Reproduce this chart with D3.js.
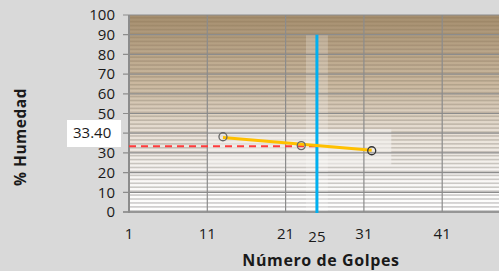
<!DOCTYPE html>
<html><head><meta charset="utf-8">
<script src="https://cdn.jsdelivr.net/npm/d3@7"></script>
<style>html,body{margin:0;padding:0;background:#d9d9d9;overflow:hidden}</style>
</head><body>
<svg id="c" width="499" height="271"></svg>
<script>
// data
const golpes = [13, 23, 32];
const humedad = [38.2, 33.7, 31.1];
const trendX = [13, 32];
const trendY = [37.8, 31.3];
const targetGolpes = 25;
const resultHumedad = 33.40;
const resultLabel = "33.40";
const xTicks = [1, 11, 21, 31, 41];
const yTicks = [0, 10, 20, 30, 40, 50, 60, 70, 80, 90, 100];

const svg = d3.select("#c");
const W = 499, H = 271;
const x = d3.scaleLinear().domain([1, 51]).range([129, 520.5]);
const y = d3.scaleLinear().domain([0, 100]).range([212, 15]);
const font = "'Open Sans', 'DejaVu Sans', sans-serif";

svg.append("rect").attr("width", W).attr("height", H).attr("fill", "#d9d9d9");

const defs = svg.append("defs");
const g = defs.append("linearGradient").attr("id", "bg").attr("x1", 0).attr("x2", 0).attr("y1", 0).attr("y2", 1);
g.append("stop").attr("offset", "0%").attr("stop-color", "#a68f6f");
g.append("stop").attr("offset", "35%").attr("stop-color", "#cbb9a0");
g.append("stop").attr("offset", "60%").attr("stop-color", "#e8e0d6");
g.append("stop").attr("offset", "80%").attr("stop-color", "#f8f6f4");
g.append("stop").attr("offset", "100%").attr("stop-color", "#ffffff");

const plot = svg.append("g");
plot.append("rect").attr("x", x(1)).attr("y", y(100)).attr("width", x(51) - x(1)).attr("height", y(0) - y(100)).attr("fill", "url(#bg)");

// stripes (minor bands)
const bands = d3.range(0, 100, 2);
plot.selectAll(".band").data(bands).join("rect")
  .attr("x", x(1)).attr("width", x(51) - x(1))
  .attr("y", d => y(d + 1)).attr("height", 1.6)
  .attr("fill", d => d3.interpolateRgb("#9a9a9a", "#8a7455")(d / 100))
  .attr("opacity", d => 0.5 - 0.15 * d / 100);

// highlight overlays
plot.append("rect").attr("x", x(11)).attr("y", y(42)).attr("width", x(34.5) - x(11)).attr("height", y(24) - y(42))
  .attr("fill", "#f4f2f0").attr("opacity", 0.6);
plot.append("rect").attr("x", x(23.6)).attr("y", y(90)).attr("width", x(26.4) - x(23.6)).attr("height", y(0) - y(90))
  .attr("fill", "#ffffff").attr("opacity", 0.22);

// gridlines
plot.selectAll(".hg").data(yTicks).join("line")
  .attr("x1", x(1) - 6).attr("x2", x(51)).attr("y1", d => y(d)).attr("y2", d => y(d))
  .attr("stroke", "#8c8c8c").attr("stroke-width", 1.2);
plot.selectAll(".vg").data(xTicks.slice(1)).join("line")
  .attr("x1", d => x(d)).attr("x2", d => x(d)).attr("y1", y(100)).attr("y2", y(0))
  .attr("stroke", "#8c8c8c").attr("stroke-width", 1.2);
plot.append("line").attr("x1", x(1)).attr("x2", x(1)).attr("y1", y(100)).attr("y2", y(0) + 1)
  .attr("stroke", "#8c8c8c").attr("stroke-width", 2);
plot.append("line").attr("x1", x(1) - 6).attr("x2", x(51)).attr("y1", y(0)).attr("y2", y(0))
  .attr("stroke", "#8c8c8c").attr("stroke-width", 1.5);

// red dashed result line
plot.append("line").attr("x1", x(1)).attr("x2", x(targetGolpes)).attr("y1", y(resultHumedad)).attr("y2", y(resultHumedad))
  .attr("stroke", "#ff3b3b").attr("stroke-width", 2).attr("stroke-dasharray", "7,5");

// blue vertical line
plot.append("line").attr("x1", x(targetGolpes)).attr("x2", x(targetGolpes)).attr("y1", y(90)).attr("y2", y(0) + 1)
  .attr("stroke", "#00b0f0").attr("stroke-width", 3);

// trend line
const trend = trendX.map((d, i) => [d, trendY[i]]);
plot.append("path").datum(trend)
  .attr("d", d3.line().x(d => x(d[0])).y(d => y(d[1])))
  .attr("stroke", "#ffc000").attr("stroke-width", 3).attr("fill", "none");

// points
plot.selectAll(".pt").data(golpes).join("circle")
  .attr("cx", d => x(d)).attr("cy", (d, i) => y(humedad[i])).attr("r", 4)
  .attr("fill", "none").attr("stroke", (d, i) => i < 2 ? "#666" : "#333").attr("stroke-width", 1.3);

// tick labels
svg.selectAll(".yl").data(yTicks.filter(d => d !== 40)).join("text")
  .attr("x", 115).attr("y", d => y(d)).attr("dy", "0.35em")
  .attr("text-anchor", "end").attr("font-family", font).attr("font-size", 15).attr("fill", "#1a1a1a")
  .text(d => d);
svg.selectAll(".xl").data(xTicks).join("text")
  .attr("x", d => x(d)).attr("y", 239)
  .attr("text-anchor", "middle").attr("font-family", font).attr("font-size", 15).attr("fill", "#1a1a1a")
  .text(d => d);
svg.append("text").attr("x", x(targetGolpes)).attr("y", 242)
  .attr("text-anchor", "middle").attr("font-family", font).attr("font-size", 15).attr("fill", "#1a1a1a")
  .text(targetGolpes);

// result label box (covers the "40" tick label, as in the reference)
svg.append("rect").attr("x", 67).attr("y", 120).attr("width", 54).attr("height", 27).attr("fill", "#ffffff");
svg.append("text").attr("x", 73).attr("y", y(40)).attr("dy", "0.35em")
  .attr("font-family", font).attr("font-size", 15).attr("fill", "#1a1a1a").text(resultLabel);

// axis titles
svg.append("text").attr("x", 321).attr("y", 266).attr("text-anchor", "middle")
  .attr("font-family", font).attr("font-size", 16).attr("font-weight", "bold").attr("letter-spacing", 0.6).attr("fill", "#1a1a1a")
  .text("Número de Golpes");
svg.append("text").attr("transform", "translate(26,137) rotate(-90)").attr("text-anchor", "middle")
  .attr("font-family", font).attr("font-size", 15.5).attr("font-weight", "bold").attr("letter-spacing", 0.5).attr("fill", "#1a1a1a")
  .text("% Humedad");
</script>
</body></html>
